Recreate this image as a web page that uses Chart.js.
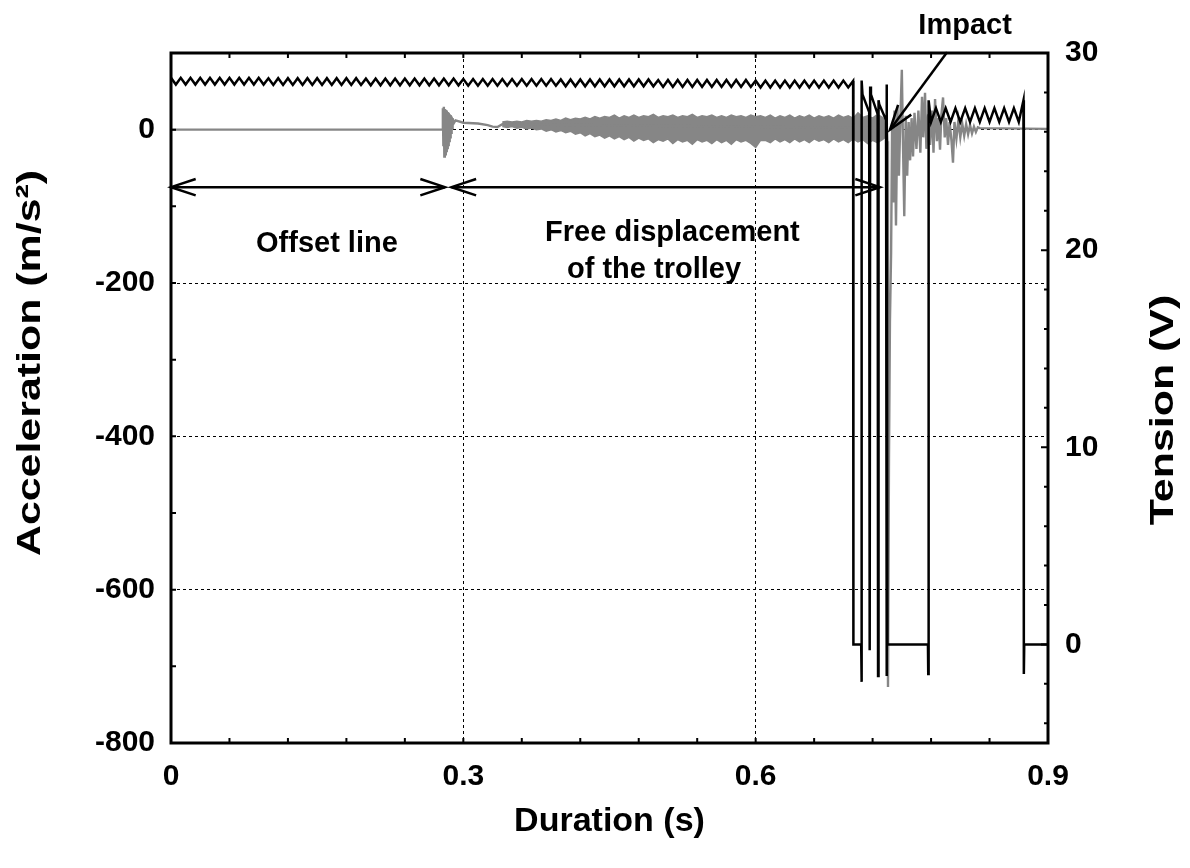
<!DOCTYPE html>
<html>
<head>
<meta charset="utf-8">
<script src="https://cdn.jsdelivr.net/npm/chart.js@4.4.1/dist/chart.umd.min.js"></script>
<style>
  html, body { margin: 0; padding: 0; background: #fff; overflow: hidden; }
  #wrap { width: 1190px; height: 868px; }
</style>
</head>
<body>
<div id="wrap"><canvas id="impactChart"></canvas></div>
<script>
// axis ticks
const timeTicks = [0, 0.3, 0.6, 0.9];
const timeMinor = [0.06, 0.12, 0.18, 0.24, 0.3, 0.36, 0.42, 0.48, 0.54, 0.6, 0.66, 0.72, 0.78, 0.84];
const accelTicks = [-800, -600, -400, -200, 0];
const accelMinor = [-700, -600, -500, -400, -300, -200, -100, 0];
const tensionTicks = [0, 10, 20, 30];
const tensionMinor = [-4, -2, 0, 2, 4, 6, 8, 10, 12, 14, 16, 18, 20, 22, 24, 26, 28];

// tension (V) before impact, one sample every 5 ms from t = 0
const sawStep = 0.005;
const sawV = [
  28.74, 28.40, 28.74, 28.40, 28.74, 28.40, 28.74, 28.40, 28.74, 28.40, 28.74, 28.40, 28.74, 28.40, 28.74, 28.40, 28.74, 28.40, 28.74, 28.40,
  28.72, 28.38, 28.72, 28.38, 28.72, 28.38, 28.72, 28.38, 28.72, 28.38, 28.72, 28.38, 28.72, 28.38, 28.72, 28.38, 28.72, 28.38, 28.72, 28.38,
  28.70, 28.36, 28.70, 28.36, 28.70, 28.36, 28.70, 28.36, 28.70, 28.36, 28.70, 28.36, 28.70, 28.36, 28.70, 28.36, 28.70, 28.36, 28.70, 28.36,
  28.68, 28.34, 28.68, 28.34, 28.68, 28.34, 28.68, 28.34, 28.68, 28.34, 28.68, 28.34, 28.68, 28.34, 28.68, 28.34, 28.68, 28.34, 28.68, 28.34,
  28.66, 28.31, 28.66, 28.31, 28.66, 28.31, 28.66, 28.31, 28.66, 28.31, 28.66, 28.31, 28.66, 28.31, 28.66, 28.31, 28.66, 28.31, 28.66, 28.31,
  28.63, 28.28, 28.63, 28.28, 28.63, 28.28, 28.63, 28.28, 28.63, 28.28, 28.63, 28.28, 28.63, 28.28, 28.63, 28.28, 28.63, 28.28, 28.63, 28.28,
  28.60, 28.25, 28.60, 28.25, 28.60, 28.25, 28.60, 28.25, 28.60, 28.25, 28.60, 28.25, 28.60, 28.25, 28.60, 28.25, 28.60, 28.25, 28.60, 28.25,
  28.58
];

// tension (V) from 0.70 s: contact pulses and second plateau
const tailT = [0.7003, 0.7083, 0.7086, 0.7089, 0.7096, 0.7165, 0.7170, 0.7175, 0.7183, 0.7252,
  0.7256, 0.7261, 0.7268, 0.7338, 0.7343, 0.7347, 0.7352, 0.7768, 0.7771, 0.7775,
  0.7800, 0.7850, 0.7900, 0.7950, 0.8000, 0.8050, 0.8100, 0.8150, 0.8200, 0.8250,
  0.8300, 0.8350, 0.8400, 0.8450, 0.8500, 0.8550, 0.8600, 0.8650, 0.8700, 0.8748,
  0.8752, 0.8756, 0.9000];
const tailV = [0, 0, -1.9, 28.6, 27.9, 27.0, -0.3, 28.3, 27.9, 26.9,
  -1.6, 27.6, 27.4, 26.6, -1.6, 28.4, 0, 0, -1.5, 27.6,
  26.5, 27.2, 26.5, 27.2, 26.5, 27.2, 26.5, 27.2, 26.5, 27.2,
  26.5, 27.2, 26.5, 27.2, 26.5, 27.2, 26.5, 27.2, 26.5, 27.6,
  -1.5, 0, 0];

// acceleration (m/s²): release transient, offset, impact
const accT = [0, 0.2785, 0.2790, 0.2795, 0.2800, 0.2805, 0.2810, 0.2815, 0.2820, 0.2825,
  0.2830, 0.2835, 0.2840, 0.2845, 0.2850, 0.2855, 0.2860, 0.2865, 0.2870, 0.2875,
  0.2880, 0.2885, 0.2890, 0.2900, 0.2920, 0.3000, 0.3150, 0.3250, 0.3300, 0.3350,
  0.3400, 0.7320, 0.7345, 0.7352, 0.7358, 0.7368, 0.7378, 0.7390, 0.7400, 0.7412,
  0.7425, 0.7440, 0.7455, 0.7470, 0.7485, 0.7500, 0.7512, 0.7525, 0.7540, 0.7555,
  0.7570, 0.7585, 0.7600, 0.7615, 0.7630, 0.7650, 0.7670, 0.7690, 0.7707, 0.7720,
  0.7738, 0.7752, 0.7770, 0.7790, 0.7810, 0.7825, 0.7841, 0.7860, 0.7875, 0.7892,
  0.7905, 0.7923, 0.7940, 0.7955, 0.7974, 0.7990, 0.8010, 0.8025, 0.8040, 0.8060,
  0.8080, 0.8100, 0.8120, 0.8140, 0.8160, 0.8180, 0.8200, 0.8220, 0.8240, 0.8260,
  0.8280, 0.8300, 0.9000];
const accV = [0, 0, 28, -20, 30, -35, 27, -32, 26, -28,
  25, -24, 23, -20, 22, -15, 20, -10, 19, -4,
  17, 2, 15, 8, 12, 9, 8, 6, 4, 3.5,
  7, 2, 8, -15, -727, -430, -250, -160, 5, -95,
  25, -125, 30, -60, 15, 78, -20, -113, 18, -60,
  10, -40, 15, -35, 22, -25, 25, -30, 43, -10,
  48, -25, 20, -20, 25, -30, 40, -15, 15, -26,
  18, 42, -10, 15, -20, 10, -15, -43, 10, -12,
  12, -10, 8, -8, 7, -6, 6, -5, 4, -3,
  3, 2, 1];

// vibration band during free displacement, envelope every 5 ms from 0.34 s
const bandStart = 0.34;
const bandHi = [10, 11, 10, 11, 10, 12, 11, 12, 11, 13, 12, 14, 12, 15, 13, 15, 14, 16, 14, 17,
  15, 17, 16, 19, 15, 18, 16, 19, 16, 18, 17, 20, 16, 18, 17, 19, 16, 18, 17, 20,
  16, 18, 17, 19, 16, 18, 16, 19, 17, 18, 16, 19, 17, 18, 16, 19, 15, 18, 16, 19,
  15, 18, 16, 19, 15, 18, 16, 18, 15, 19, 16, 18, 15, 22, 16, 18, 15, 20, 16, 10];
const bandLo = [4, 3, 4, 2, 3, 1, 2, 0, 1, -2, 0, -3, -1, -4, -2, -6, -4, -8, -5, -9,
  -7, -11, -8, -12, -9, -13, -10, -15, -11, -14, -12, -17, -13, -15, -12, -18, -13, -16, -14, -19,
  -13, -16, -14, -18, -13, -17, -14, -19, -13, -16, -14, -18, -23, -14, -14, -17, -12, -16, -13, -17,
  -12, -16, -13, -17, -12, -15, -13, -17, -12, -16, -13, -17, -12, -16, -13, -18, -14, -17, -13, -8];

// annotations (data units)
const arrowLevel = -75;
const spanArrows = [[0, 0.2812], [0.2878, 0.7276]];
const impactArrow = [[0.7964, 101], [0.7379, 0]];
const notes = [
  ['Offset line', 0.160, -159],
  ['Free displacement', 0.5146, -145],
  ['of the trolley', 0.4957, -193],
  ['Impact', 0.8149, 125]
];

const FONT = "'Liberation Sans', Arial, sans-serif";

const tensionData = sawV.map((v, i) => ({x: i * sawStep, y: v}))
  .concat(tailT.map((t, i) => ({x: t, y: tailV[i]})));
const accData = accT.map((t, i) => ({x: t, y: accV[i]}));
const hiData = bandHi.map((v, i) => ({x: bandStart + i * 0.005, y: v}));
const loData = bandLo.map((v, i) => ({x: bandStart + i * 0.005, y: v}));

function head(ctx, tx, ty, fx, fy) {
  const ang = Math.atan2(fy - ty, fx - tx);
  const len = 26, spr = 0.32;
  ctx.beginPath();
  ctx.moveTo(tx + len * Math.cos(ang + spr), ty + len * Math.sin(ang + spr));
  ctx.lineTo(tx, ty);
  ctx.lineTo(tx + len * Math.cos(ang - spr), ty + len * Math.sin(ang - spr));
  ctx.stroke();
}

// rotated title, stretched along its length like the source figure
function sideTitle(ctx, text, cx, cy) {
  ctx.save();
  ctx.translate(cx, cy);
  ctx.rotate(-Math.PI / 2);
  ctx.scale(1.3, 1);
  ctx.fillText(text, 0, 0);
  ctx.restore();
}

const overlay = {
  id: 'overlay',
  afterDraw(chart) {
    const {ctx, chartArea: a, scales: {x, y, y1}} = chart;
    ctx.save();
    ctx.strokeStyle = '#000';
    ctx.fillStyle = '#000';

    // minor ticks, pointing inward
    ctx.lineWidth = 2;
    ctx.beginPath();
    timeMinor.forEach(v => {
      const px = x.getPixelForValue(v);
      ctx.moveTo(px, a.bottom); ctx.lineTo(px, a.bottom - 5);
      ctx.moveTo(px, a.top); ctx.lineTo(px, a.top + 5);
    });
    accelMinor.forEach(v => {
      const py = y.getPixelForValue(v);
      ctx.moveTo(a.left, py); ctx.lineTo(a.left + 5, py);
    });
    tensionMinor.forEach(v => {
      const py = y1.getPixelForValue(v);
      ctx.moveTo(a.right, py); ctx.lineTo(a.right - (v % 10 === 0 ? 7 : 4), py);
    });
    ctx.stroke();

    // frame
    ctx.lineWidth = 3;
    ctx.strokeRect(a.left, a.top, a.right - a.left, a.bottom - a.top);

    // double arrows
    ctx.lineWidth = 2.5;
    const ay = y.getPixelForValue(arrowLevel);
    spanArrows.forEach(([t0, t1]) => {
      const x0 = x.getPixelForValue(t0), x1 = x.getPixelForValue(t1);
      ctx.beginPath(); ctx.moveTo(x0, ay); ctx.lineTo(x1, ay); ctx.stroke();
      head(ctx, x0, ay, x1, ay);
      head(ctx, x1, ay, x0, ay);
    });

    // impact arrow
    const fx = x.getPixelForValue(impactArrow[0][0]), fy = y.getPixelForValue(impactArrow[0][1]);
    const tx = x.getPixelForValue(impactArrow[1][0]), ty = y.getPixelForValue(impactArrow[1][1]);
    ctx.beginPath(); ctx.moveTo(fx, fy); ctx.lineTo(tx, ty); ctx.stroke();
    head(ctx, tx, ty, fx, fy);

    // text notes
    ctx.font = 'bold 29px ' + FONT;
    ctx.textAlign = 'center';
    ctx.textBaseline = 'alphabetic';
    notes.forEach(([txt, t, v]) => {
      ctx.fillText(txt, x.getPixelForValue(t), y.getPixelForValue(v));
    });

    // vertical axis titles
    ctx.font = 'bold 33px ' + FONT;
    ctx.textBaseline = 'middle';
    sideTitle(ctx, 'Acceleration (m/s²)', 31, 363);
    sideTitle(ctx, 'Tension (V)', 1164, 410);

    ctx.restore();
  }
};

const tickFont = {family: FONT, size: 30, weight: 'bold'};

new Chart(document.getElementById('impactChart').getContext('2d'), {
  type: 'line',
  data: {
    datasets: [
      {
        label: 'Tension',
        data: tensionData,
        yAxisID: 'y1',
        borderColor: '#000',
        borderWidth: 2.5,
        pointRadius: 0,
        fill: false
      },
      {
        label: 'Acceleration',
        data: accData,
        yAxisID: 'y',
        borderColor: '#868686',
        borderWidth: 2.4,
        pointRadius: 0,
        fill: false
      },
      {
        label: 'Acceleration band high',
        data: hiData,
        yAxisID: 'y',
        borderColor: '#868686',
        backgroundColor: '#868686',
        borderWidth: 1.5,
        pointRadius: 0,
        fill: '+1'
      },
      {
        label: 'Acceleration band low',
        data: loData,
        yAxisID: 'y',
        borderColor: '#868686',
        borderWidth: 1.5,
        pointRadius: 0,
        fill: false
      }
    ]
  },
  options: {
    responsive: true,
    maintainAspectRatio: false,
    animation: false,
    events: [],
    layout: { padding: { top: 53, left: 0, right: 0, bottom: 0 } },
    elements: { line: { tension: 0 } },
    plugins: { legend: { display: false }, tooltip: { enabled: false } },
    scales: {
      x: {
        type: 'linear',
        min: 0,
        max: 0.9,
        afterBuildTicks: s => { s.ticks = timeTicks.map(v => ({value: v})); },
        afterFit: s => { s.height = 125; s.paddingLeft = 0; s.paddingRight = 0; },
        ticks: { font: tickFont, color: '#000', padding: 16, maxRotation: 0, autoSkip: false, callback: v => String(v) },
        grid: {
          drawTicks: false,
          lineWidth: 1,
          color: c => (c.tick && (c.tick.value === 0.3 || c.tick.value === 0.6)) ? '#000' : 'rgba(0,0,0,0)'
        },
        border: { display: false, dash: [3, 3] },
        title: { display: true, text: 'Duration (s)', color: '#000', font: {family: FONT, size: 34, weight: 'bold'}, padding: {top: 0, bottom: 26} }
      },
      y: {
        type: 'linear',
        position: 'left',
        min: -800,
        max: 100,
        afterBuildTicks: s => { s.ticks = accelTicks.map(v => ({value: v})); },
        afterFit: s => { s.width = 171; s.paddingTop = 0; s.paddingBottom = 0; },
        ticks: { font: tickFont, color: '#000', padding: 16, autoSkip: false },
        grid: {
          drawTicks: false,
          lineWidth: 1,
          color: c => (c.tick && c.tick.value > -800) ? '#000' : 'rgba(0,0,0,0)'
        },
        border: { display: false, dash: [3, 3] }
      },
      y1: {
        type: 'linear',
        position: 'right',
        min: -5,
        max: 30,
        afterBuildTicks: s => { s.ticks = tensionTicks.map(v => ({value: v})); },
        afterFit: s => { s.width = 142; s.paddingTop = 0; s.paddingBottom = 0; },
        ticks: { font: tickFont, color: '#000', padding: 17, autoSkip: false },
        grid: { display: false, drawTicks: false },
        border: { display: false }
      }
    }
  },
  plugins: [overlay]
});
</script>
</body>
</html>
